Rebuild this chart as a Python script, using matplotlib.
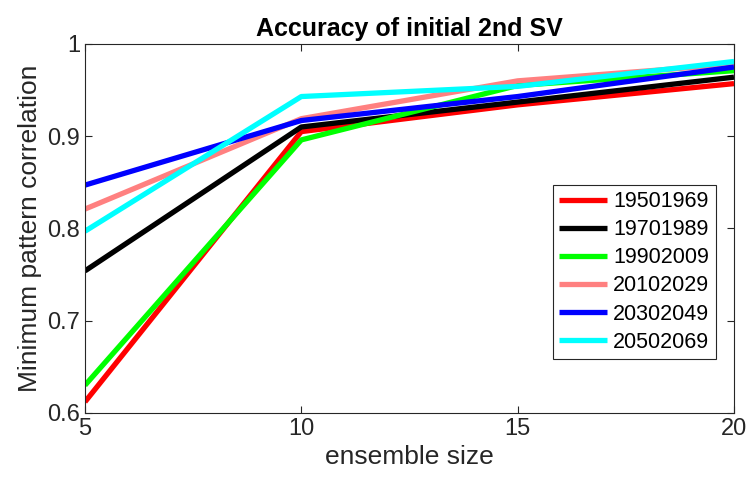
import matplotlib
matplotlib.use("Agg")
import matplotlib.pyplot as plt

plt.rcParams['font.family'] = ['Liberation Sans', 'DejaVu Sans']

ensemble = [5, 10, 15, 20]
periods = ["19501969", "19701989", "19902009", "20102029", "20302049", "20502069"]
corr_1950 = [0.612, 0.905, 0.934, 0.957]
corr_1970 = [0.754, 0.910, 0.937, 0.964]
corr_1990 = [0.630, 0.896, 0.955, 0.971]
corr_2010 = [0.821, 0.919, 0.960, 0.978]
corr_2030 = [0.847, 0.917, 0.943, 0.975]
corr_2050 = [0.797, 0.943, 0.954, 0.981]
colors = ["#ff0000", "#000000", "#00ff00", "#ff8080", "#0000ff", "#00ffff"]

series = [corr_1950, corr_1970, corr_1990, corr_2010, corr_2030, corr_2050]

fig = plt.figure(figsize=(7.48, 4.83), dpi=100)
ax = fig.add_axes([0.1136, 0.145, 0.8677, 0.764])

for vals, col, lab in zip(series, colors, periods):
    ax.plot(ensemble, vals, color=col, lw=3.8, label=lab, solid_capstyle='butt')

ax.set_xlim(5, 20)
ax.set_ylim(0.6, 1.0)
ax.set_xticks([5, 10, 15, 20])
ax.set_yticks([0.6, 0.7, 0.8, 0.9, 1.0])
ax.set_yticklabels(["0.6", "0.7", "0.8", "0.9", "1"])
ax.tick_params(direction='in', top=True, right=True, labelsize=17,
               colors='#262626', length=5, width=0.8)
for s in ax.spines.values():
    s.set_color('#262626')
    s.set_linewidth(0.8)

ax.set_xlabel("ensemble size", fontsize=19, color='#262626')
ax.set_ylabel("Minimum pattern correlation", fontsize=19, color='#262626')
ax.set_title("Accuracy of initial 2nd SV", fontsize=18, fontweight='bold', pad=6)

leg = ax.legend(loc='lower right', bbox_to_anchor=(0.972, 0.146), fontsize=15.5,
                handlelength=2.2, labelspacing=0.33, borderaxespad=0,
                fancybox=False, framealpha=1, borderpad=0.3, handletextpad=0.3)
leg.get_frame().set_edgecolor('#262626')
leg.get_frame().set_linewidth(0.8)

fig.savefig("out.png", dpi=100)
